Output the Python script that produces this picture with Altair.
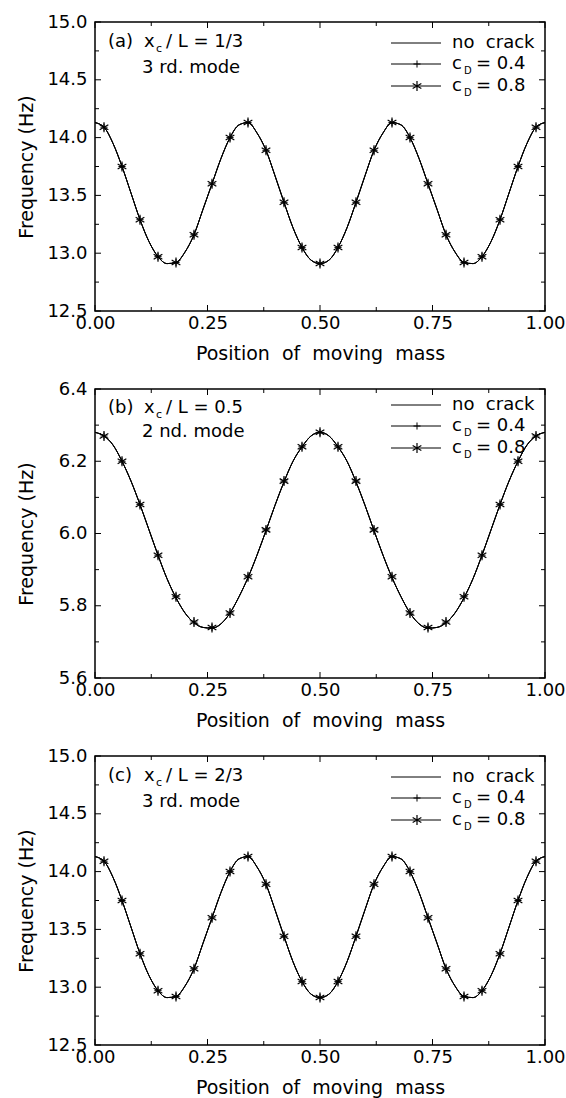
import altair as alt
import pandas as pd

FONT = "DejaVu Sans"
W, H = 450, 289

# ---------------- data ----------------
X_LINE = [0.00, 0.02, 0.04, 0.06, 0.08, 0.10, 0.12, 0.14, 0.16, 0.18, 0.20,
          0.22, 0.24, 0.26, 0.28, 0.30, 0.32, 0.34, 0.36, 0.38, 0.40,
          0.42, 0.44, 0.46, 0.48, 0.50, 0.52, 0.54, 0.56, 0.58, 0.60,
          0.62, 0.64, 0.66, 0.68, 0.70, 0.72, 0.74, 0.76, 0.78, 0.80,
          0.82, 0.84, 0.86, 0.88, 0.90, 0.92, 0.94, 0.96, 0.98, 1.00]

X_MARK = [0.02, 0.06, 0.10, 0.14, 0.18, 0.22, 0.26, 0.30, 0.34, 0.38, 0.42, 0.46,
          0.50, 0.54, 0.58, 0.62, 0.66, 0.70, 0.74, 0.78, 0.82, 0.86, 0.90, 0.94, 0.98]

# panel (a)  x_c/L = 1/3, 3rd mode
A_LINE = [14.13, 14.09, 13.95, 13.75, 13.52, 13.29, 13.10, 12.97, 12.91, 12.92, 13.01,
          13.16, 13.38, 13.60, 13.82, 14.00, 14.11, 14.13, 14.04, 13.89, 13.67,
          13.44, 13.22, 13.05, 12.94, 12.91, 12.94, 13.05, 13.22, 13.44, 13.67,
          13.89, 14.04, 14.13, 14.11, 14.00, 13.82, 13.60, 13.38, 13.16, 13.01,
          12.92, 12.91, 12.97, 13.10, 13.29, 13.52, 13.75, 13.95, 14.09, 14.13]
A_MARK = [14.09, 13.75, 13.29, 12.97, 12.92, 13.16, 13.60, 14.00, 14.13, 13.89, 13.44, 13.05,
          12.91, 13.05, 13.44, 13.89, 14.13, 14.00, 13.60, 13.16, 12.92, 12.97, 13.29, 13.75, 14.09]

# panel (b)  x_c/L = 0.5, 2nd mode
B_LINE = [6.280, 6.270, 6.245, 6.200, 6.145, 6.080, 6.010, 5.940, 5.875, 5.822, 5.780,
          5.753, 5.740, 5.738, 5.750, 5.780, 5.825, 5.878, 5.940, 6.008, 6.078,
          6.143, 6.200, 6.240, 6.270, 6.280, 6.270, 6.240, 6.200, 6.143, 6.078,
          6.008, 5.940, 5.878, 5.825, 5.780, 5.750, 5.738, 5.740, 5.753, 5.780,
          5.822, 5.875, 5.940, 6.010, 6.080, 6.145, 6.200, 6.245, 6.270, 6.280]
B_MARK = [6.270, 6.200, 6.080, 5.940, 5.825, 5.755, 5.740, 5.780, 5.880, 6.010, 6.145, 6.240,
          6.280, 6.240, 6.145, 6.010, 5.880, 5.780, 5.740, 5.755, 5.825, 5.940, 6.080, 6.200, 6.270]

# panel (c)  x_c/L = 2/3, 3rd mode
C_LINE = [14.13, 14.09, 13.95, 13.75, 13.52, 13.29, 13.10, 12.97, 12.91, 12.92, 13.01,
          13.16, 13.38, 13.60, 13.82, 14.00, 14.11, 14.13, 14.04, 13.89, 13.67,
          13.44, 13.22, 13.05, 12.94, 12.91, 12.94, 13.05, 13.22, 13.44, 13.67,
          13.89, 14.04, 14.13, 14.11, 14.00, 13.82, 13.60, 13.38, 13.16, 13.01,
          12.92, 12.91, 12.97, 13.10, 13.29, 13.52, 13.75, 13.95, 14.09, 14.13]
C_MARK = [14.09, 13.75, 13.29, 12.97, 12.92, 13.16, 13.60, 14.00, 14.13, 13.89, 13.44, 13.05,
          12.91, 13.05, 13.44, 13.89, 14.13, 14.00, 13.60, 13.16, 12.92, 12.97, 13.29, 13.75, 14.09]

X_MAJOR = [0.0, 0.25, 0.5, 0.75, 1.0]
X_MINOR = [0.125, 0.375, 0.625, 0.875]
Y_MAJOR_15 = [12.5, 13.0, 13.5, 14.0, 14.5, 15.0]
Y_MINOR_15 = [12.75, 13.25, 13.75, 14.25, 14.75]
Y_MAJOR_6 = [5.6, 5.8, 6.0, 6.2, 6.4]
Y_MINOR_6 = [5.7, 5.9, 6.1, 6.3]

SERIES = ["no crack", "c_D = 0.4", "c_D = 0.8"]
LEGEND_TEXT = ["no\u00a0 crack", "c", "c"]
LEGEND_SUB = ["", "D", "D"]
LEGEND_REST = ["", "= 0.4", "= 0.8"]

PANEL_TAGS = ["(a)", "(b)", "(c)"]
PANEL_XC = ["/ L = 1/3", "/ L = 0.5", "/ L = 2/3"]
PANEL_MODE = ["3 rd. mode", "2 nd. mode", "3 rd. mode"]

X_TITLE = "Position \u00a0of \u00a0moving \u00a0mass"
Y_TITLE = "Frequency (Hz)"

STAR = "M0,-1L0,1M-0.87,-0.5L0.87,0.5M-0.87,0.5L0.87,-0.5"
PLUS = "M-1,0L1,0M0,-1L0,1"


def txt(s, px, py, size=18, align="left"):
    return alt.Chart(pd.DataFrame({"t": [s]})).mark_text(
        font=FONT, fontSize=size, align=align, baseline="middle", color="black"
    ).encode(text="t:N", x=alt.value(px), y=alt.value(py))


def ticks_x(vals, length, top):
    y0 = 0 if top else H
    y1 = length if top else H - length
    return alt.Chart(pd.DataFrame({"x": vals})).mark_rule(color="black", strokeWidth=1).encode(
        x="x:Q", y=alt.value(y0), y2=alt.value(y1))


def ticks_y(vals, length, right):
    x0 = W if right else 0
    x1 = W - length if right else length
    return alt.Chart(pd.DataFrame({"y": vals})).mark_rule(color="black", strokeWidth=1).encode(
        y="y:Q", x=alt.value(x0), x2=alt.value(x1))


def panel(i, line_y, mark_y, dom, ymaj, ymin, ann_rows, leg_rows):
    xs = alt.Scale(domain=[0, 1], nice=False, zero=False)
    ys = alt.Scale(domain=dom, nice=False, zero=False)
    xaxis = alt.Axis(values=X_MAJOR, format=".2f", title=X_TITLE, ticks=False, domain=False,
                     grid=False, labelPadding=3, titlePadding=12, labelFlush=False,
                     labelFont=FONT, labelFontSize=18, labelColor="black",
                     titleFont=FONT, titleFontSize=19, titleFontWeight="normal", titleColor="black")
    yaxis = alt.Axis(values=ymaj, format=".1f", title=Y_TITLE, ticks=False, domain=False,
                     grid=False, labelPadding=8, titleX=-69, titleY=H / 2, titleAngle=-90,
                     titleAlign="center", titleBaseline="middle", labelFlush=False,
                     labelFont=FONT, labelFontSize=18, labelColor="black",
                     titleFont=FONT, titleFontSize=19, titleFontWeight="normal", titleColor="black")
    df_line = pd.DataFrame({"x": X_LINE, "y": line_y})
    df_mark = pd.DataFrame({"x": X_MARK, "y": mark_y})
    layers = []
    for s in SERIES:
        layers.append(alt.Chart(df_line).mark_line(color="black", strokeWidth=1, interpolate="monotone").encode(
            x=alt.X("x:Q", scale=xs, axis=xaxis), y=alt.Y("y:Q", scale=ys, axis=yaxis)))
    layers.append(alt.Chart(df_mark).mark_point(shape=PLUS, size=50, filled=False, color="black",
                                                strokeWidth=1, opacity=1).encode(x="x:Q", y="y:Q"))
    layers.append(alt.Chart(df_mark).mark_point(shape=STAR, size=100, filled=False, color="black",
                                                strokeWidth=1.2, opacity=1).encode(x="x:Q", y="y:Q"))
    # inward ticks
    layers += [ticks_x(X_MAJOR, 6, False), ticks_x(X_MINOR, 4, False),
               ticks_x(X_MAJOR, 6, True), ticks_x(X_MINOR, 4, True),
               ticks_y(ymaj, 6, False), ticks_y(ymin, 4, False),
               ticks_y(ymaj, 6, True), ticks_y(ymin, 4, True)]
    # panel annotation
    r1, r2 = ann_rows
    layers += [txt(PANEL_TAGS[i], 13, r1), txt("x", 49, r1), txt("c", 61, r1 + 7, size=11),
               txt(PANEL_XC[i], 71, r1), txt(PANEL_MODE[i], 47, r2)]
    # legend
    for k in range(3):
        ry = leg_rows[k]
        layers.append(alt.Chart(pd.DataFrame({"s": [SERIES[k]]})).mark_rule(color="black", strokeWidth=1).encode(
            x=alt.value(296), x2=alt.value(346), y=alt.value(ry)))
        if k == 1:
            layers.append(alt.Chart(pd.DataFrame({"s": [SERIES[k]]})).mark_point(
                shape=PLUS, size=50, filled=False, color="black", strokeWidth=1, opacity=1).encode(
                x=alt.value(322), y=alt.value(ry)))
        if k == 2:
            layers.append(alt.Chart(pd.DataFrame({"s": [SERIES[k]]})).mark_point(
                shape=STAR, size=100, filled=False, color="black", strokeWidth=1.2, opacity=1).encode(
                x=alt.value(322), y=alt.value(ry)))
        layers.append(txt(LEGEND_TEXT[k], 357, ry))
        if LEGEND_SUB[k]:
            layers.append(txt(LEGEND_SUB[k], 369, ry + 7, size=10))
            layers.append(txt(LEGEND_REST[k], 381, ry))
    return alt.layer(*layers).properties(width=W, height=H)


pa = panel(0, A_LINE, A_MARK, [12.5, 15.0], Y_MAJOR_15, Y_MINOR_15, (20, 46), (21, 42, 64))
pb = panel(1, B_LINE, B_MARK, [5.6, 6.4], Y_MAJOR_6, Y_MINOR_6, (19, 43), (16, 37, 59))
pc = panel(2, C_LINE, C_MARK, [12.5, 15.0], Y_MAJOR_15, Y_MINOR_15, (20, 46), (21, 42, 64))

chart = alt.vconcat(pa, pb, pc, spacing=78, bounds="flush").properties(
    padding={"left": 16, "top": 12, "right": 0, "bottom": 0},
    background="white"
).configure_view(
    stroke="black", strokeWidth=1.5
)

chart.save("out.html", embed_options={"renderer": "svg", "actions": False})
